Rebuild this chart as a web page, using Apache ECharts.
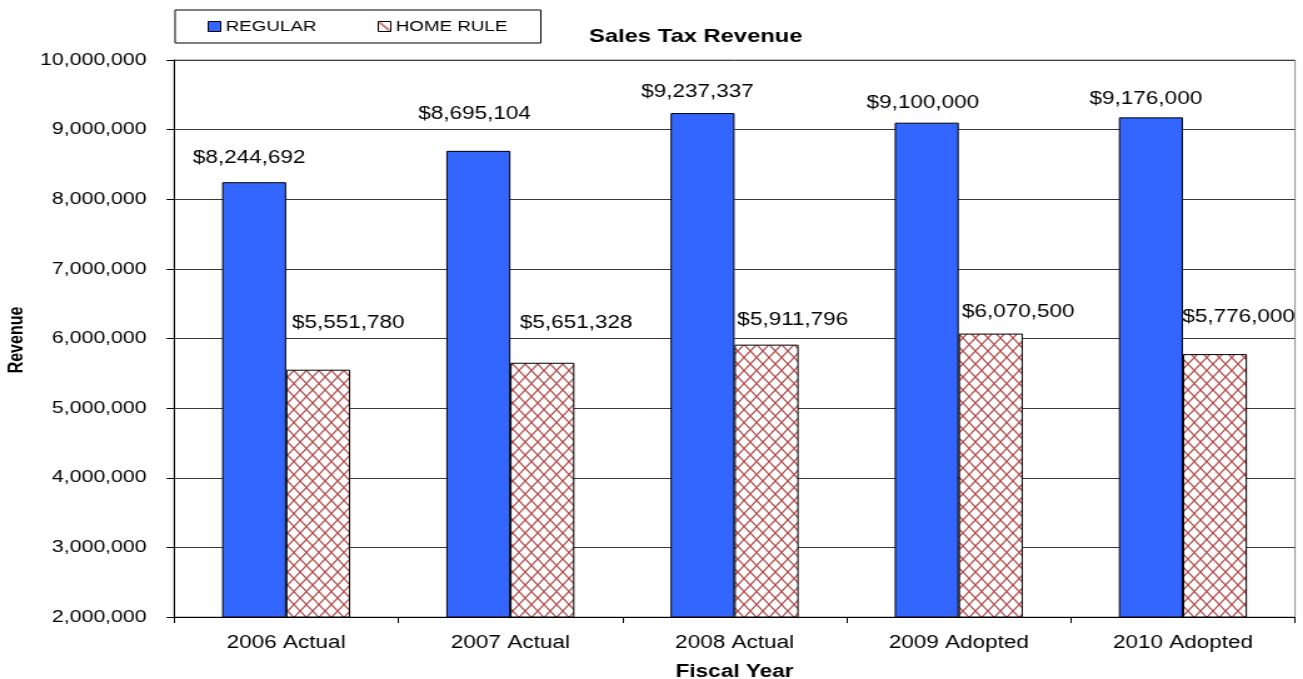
<!DOCTYPE html>
<html>
<head>
<meta charset="utf-8">
<title>Sales Tax Revenue</title>
<script src="https://cdn.jsdelivr.net/npm/echarts@6/dist/echarts.min.js"></script>
<style>
  html, body { margin: 0; padding: 0; background: #ffffff; overflow: hidden; }
  #stage { position: absolute; left: 0; top: 0; width: 1303px; height: 679px; overflow: hidden; }
  /* the chart is laid out narrow and widened, which gives the wide lettering */
  #chart { position: absolute; left: 0; top: 0; width: 1042px; height: 679px;
           transform: scaleX(1.2505); transform-origin: 0 0; }
</style>
</head>
<body>
<div id="stage"><div id="chart"></div></div>
<script>
// Fiscal years and revenue in dollars
const categories = ['2006 Actual', '2007 Actual', '2008 Actual', '2009 Adopted', '2010 Adopted'];
const regular = [8244692, 8695104, 9237337, 9100000, 9176000];
const homeRule = [5551780, 5651328, 5911796, 6070500, 5776000];
const seriesNames = ['REGULAR', 'HOME RULE'];
const yMin = 2000000, yMax = 10000000, yStep = 1000000;

// Where each value label sits relative to the top of its bar
const regularLabelShift = [[-4, -10], [-3, -23], [-4, -7], [-3, -6], [-4, -4.5]];
const homeLabelShift = [[24, -33], [27, -26], [21, -11], [22, -8], [19, -23]];

const FONT = '"Liberation Sans", Arial, Helvetica, sans-serif';

// Cross-hatch fill for the home rule bars
function hatchTile() {
  const c = document.createElement('canvas');
  c.width = 10; c.height = 13;
  const g = c.getContext('2d');
  g.fillStyle = '#ffffff';
  g.fillRect(0, 0, 10, 13);
  g.strokeStyle = '#b44c4c';
  g.lineWidth = 1.3;
  g.beginPath();
  g.moveTo(0, 0); g.lineTo(10, 13);
  g.moveTo(10, 0); g.lineTo(0, 13);
  g.stroke();
  return c;
}
// Small swatch for the legend: a single red diagonal
function swatchTile() {
  const c = document.createElement('canvas');
  c.width = 10; c.height = 10;
  const g = c.getContext('2d');
  g.fillStyle = '#ffffff';
  g.fillRect(0, 0, 10, 10);
  g.strokeStyle = '#c03a3a';
  g.lineWidth = 1.4;
  g.beginPath();
  g.moveTo(1, 1); g.lineTo(9, 9);
  g.stroke();
  return c;
}
const hatch = { image: hatchTile(), repeat: 'repeat' };
const swatch = { image: swatchTile(), repeat: 'no-repeat' };

const money = v => '$' + Math.round(v).toLocaleString('en-US');

const chart = echarts.init(document.getElementById('chart'), null, { renderer: 'canvas' });

chart.setOption({
  backgroundColor: '#ffffff',
  animation: false,
  title: {
    text: 'Sales Tax Revenue',
    left: 471, top: 27, padding: 0,
    textStyle: { fontFamily: FONT, fontSize: 19, fontWeight: 'bold', color: '#000' }
  },
  graphic: [
    {
      type: 'rect', z: 0,
      shape: { x: 140, y: 10, width: 292.5, height: 33 },
      style: { fill: '#ffffff', stroke: '#000000', lineWidth: 1 }
    },
    {
      type: 'text', z: 10,
      x: 14, y: 340, rotation: Math.PI / 2,
      style: {
        text: 'Revenue', fill: '#000',
        font: 'bold 16px ' + FONT,
        textAlign: 'center', textVerticalAlign: 'middle'
      }
    }
  ],
  legend: {
    data: [
      { name: seriesNames[0] },
      { name: seriesNames[1], itemStyle: { color: swatch } }
    ],
    left: 166, top: 19, padding: 0,
    itemWidth: 10, itemHeight: 10, itemGap: 49,
    icon: 'rect',
    itemStyle: { borderColor: '#000', borderWidth: 1 },
    textStyle: { fontFamily: FONT, fontSize: 15, color: '#000', padding: [0, 0, 0, -1] }
  },
  grid: {
    left: 139.2, right: 6.4, top: 60, bottom: 62,
    outerBoundsMode: 'none',
    show: true, borderColor: '#8c8c8c', borderWidth: 1, backgroundColor: '#ffffff'
  },
  xAxis: {
    type: 'category',
    data: categories,
    name: 'Fiscal Year',
    nameLocation: 'middle',
    nameGap: 46,
    nameTextStyle: { fontFamily: FONT, fontSize: 18, fontWeight: 'bold', color: '#000' },
    axisLine: { lineStyle: { color: '#000', width: 1 } },
    axisTick: { show: true, length: 6, lineStyle: { color: '#000' } },
    axisLabel: { fontFamily: FONT, fontSize: 18, color: '#000', margin: 17 }
  },
  yAxis: {
    type: 'value',
    min: yMin, max: yMax, interval: yStep,
    axisLine: { show: true, lineStyle: { color: '#000', width: 1 } },
    axisTick: { show: true, length: 6, lineStyle: { color: '#000' } },
    axisLabel: {
      fontFamily: FONT, fontSize: 17, color: '#000', margin: 22,
      formatter: v => Number(v).toLocaleString('en-US')
    },
    splitLine: { show: true, lineStyle: { color: '#3a3a3a', width: 1 } }
  },
  series: [
    {
      name: seriesNames[0],
      type: 'bar',
      barWidth: 51.2,
      barGap: '0%',
      itemStyle: { color: '#3366ff', borderColor: '#000', borderWidth: 1 },
      label: {
        show: true, position: 'top',
        fontFamily: FONT, fontSize: 18, color: '#000',
        formatter: p => money(p.value)
      },
      data: regular.map((v, i) => ({ value: v, label: { offset: regularLabelShift[i] } }))
    },
    {
      name: seriesNames[1],
      type: 'bar',
      barWidth: 51.2,
      barGap: '0%',
      itemStyle: { color: hatch, borderColor: '#000', borderWidth: 1 },
      label: {
        show: true, position: 'top',
        fontFamily: FONT, fontSize: 18, color: '#000',
        formatter: p => money(p.value)
      },
      data: homeRule.map((v, i) => ({ value: v, label: { offset: homeLabelShift[i] } }))
    }
  ]
});
</script>
</body>
</html>
